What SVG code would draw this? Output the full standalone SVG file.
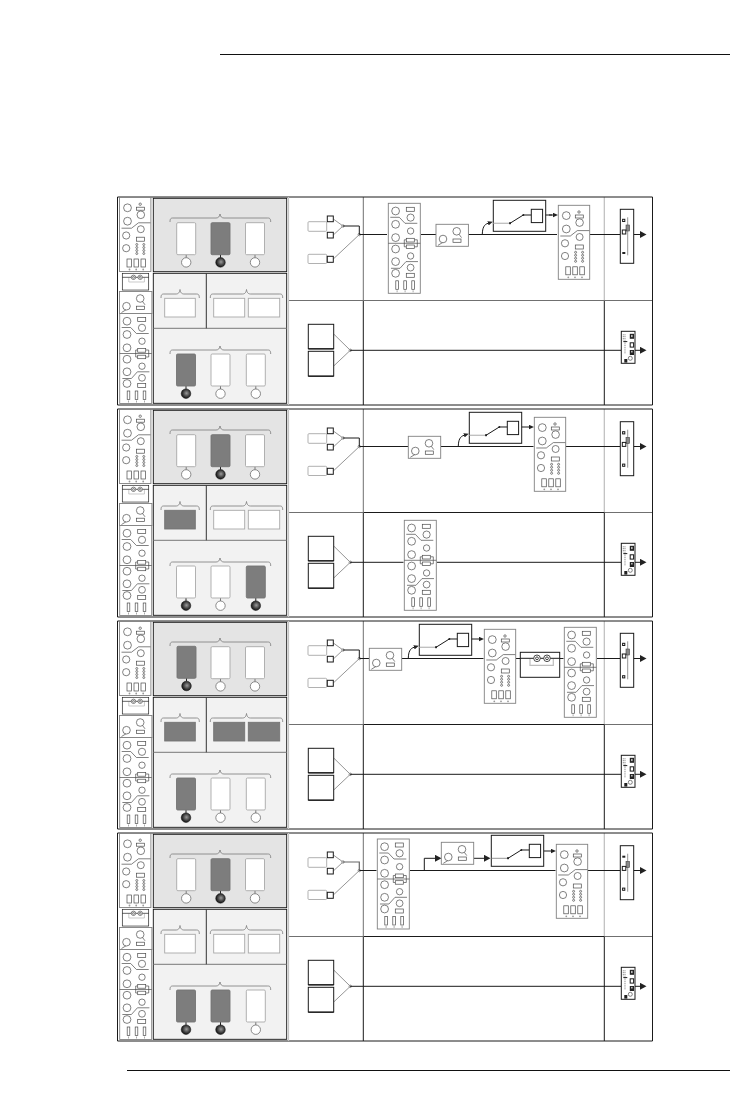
<svg xmlns="http://www.w3.org/2000/svg" xmlns:xlink="http://www.w3.org/1999/xlink" width="730" height="1099" viewBox="0 0 730 1099">
<style>
.k{fill:none;stroke:#1a1a1a;stroke-width:1}
.kf{fill:#fff;stroke:#1a1a1a;stroke-width:1}
.g{fill:none;stroke:#7a7a7a;stroke-width:.8}
.gf{fill:#fff;stroke:#808080;stroke-width:.9}
.i{fill:#fff;stroke:#4a4a4a;stroke-width:.7}
.il{fill:none;stroke:#4a4a4a;stroke-width:.7}
.t{fill:none;stroke:#1a1a1a;stroke-width:1}
.lg{fill:none;stroke:#bdbdbd;stroke-width:1.2}
.mg{fill:none;stroke:#707070;stroke-width:1}
.w{fill:#fff;stroke:#a8a8a8;stroke-width:.9}
.d{fill:#7d7d7d;stroke:#747474;stroke-width:.9}
.bl{fill:#222}
.st{stroke:#777;stroke-width:1}
.stb{stroke:#222;stroke-width:1}
.o{fill:#fff;stroke:#707070;stroke-width:.8}
</style>
<defs>
<radialGradient id="ball" cx=".55" cy=".45" r=".55"><stop offset="0" stop-color="#9a9a9a"/><stop offset=".6" stop-color="#444"/><stop offset="1" stop-color="#111"/></radialGradient>
<marker id="a" markerUnits="userSpaceOnUse" markerWidth="6.5" markerHeight="7" refX="0" refY="3.5" orient="auto"><path d="M0,0L6.5,3.5L0,7z" fill="#222"/></marker>
<marker id="s" markerUnits="userSpaceOnUse" markerWidth="5" markerHeight="5" refX="0" refY="2.5" orient="auto"><path d="M0,.3L5,2.5L0,4.7z" fill="#222"/></marker>
<g id="rackA">
<rect class="gf" width="32" height="90"/>
<path class="il" d="M0,40H32M2,14H11L16.7,20H29M2.7,65H11.7L17.7,58.3H29.7"/>
<circle class="i" cx="7.3" cy="7.7" r="3.9"/><circle class="i" cx="7.3" cy="21" r="3.9"/><circle class="i" cx="7.3" cy="34.3" r="3.9"/><circle class="i" cx="7.3" cy="45.7" r="3.9"/><circle class="i" cx="7.3" cy="58.3" r="3.9"/><circle class="i" cx="7.3" cy="70" r="3.9"/>
<circle class="i" cx="22.3" cy="14.3" r="3.6"/><circle class="i" cx="22.3" cy="27.7" r="3.2"/><circle class="i" cx="22.3" cy="52.7" r="3.2"/><circle class="i" cx="22.3" cy="64.3" r="3.4"/>
<path class="il" d="M18,36.5H16V43.5H18M26,36.5H29V43.5H26"/>
<rect class="i" x="18" y="4" width="8" height="4"/><rect class="i" x="18" y="35" width="8" height="3.7"/><rect class="i" x="18" y="41.7" width="8" height="3.5"/><rect class="i" x="18" y="70" width="8" height="4"/>
<rect class="i" x="7.5" y="77.5" width="2.6" height="8.5"/><rect class="i" x="15.5" y="77.5" width="2.6" height="8.5"/><rect class="i" x="23.5" y="77.5" width="2.6" height="8.5"/>
<path stroke="#aaa" stroke-width="1" d="M8.8,87V89M16.8,87V89M24.8,87V89"/>
</g>
<g id="rackB">
<rect class="gf" width="31.4" height="74"/>
<path class="il" d="M2,30.7H12L19,25.3H31"/>
<circle class="i" cx="8" cy="10.3" r="3.9"/><circle class="i" cx="8" cy="23.7" r="3.9"/><circle class="i" cx="6.7" cy="38" r="3.6"/><circle class="i" cx="6.7" cy="50.7" r="3.6"/>
<circle class="i" cx="20.7" cy="6.7" r="1.2"/><rect class="i" x="17" y="9.7" width="8" height="3"/><circle class="i" cx="21.3" cy="17.3" r="3.8"/><circle class="i" cx="21.3" cy="31.7" r="3.5"/><rect class="i" x="17" y="39.7" width="8" height="4"/>
<g id="dots"><circle class="i" cx="17.3" cy="47" r="1"/><circle class="i" cx="17.3" cy="50" r="1"/><circle class="i" cx="17.3" cy="53" r="1"/><circle class="i" cx="17.3" cy="56" r="1"/></g>
<use href="#dots" x="7"/>
<rect class="i" x="7.5" y="61.5" width="4.5" height="8"/><rect class="i" x="14.5" y="61.5" width="4.5" height="8"/><rect class="i" x="21.5" y="61.5" width="4.5" height="8"/>
<circle fill="#999" cx="10" cy="72" r=".9"/><circle fill="#999" cx="16.7" cy="72" r=".9"/><circle fill="#999" cx="23.7" cy="72" r=".9"/>
</g>
<g id="mic">
<rect class="gf" width="32.4" height="22"/>
<path class="il" d="M2,21L7,18M23,10L25.5,13.3"/>
<circle class="i" cx="7" cy="14.7" r="3.8"/><circle class="i" cx="20.7" cy="7" r="3.8"/><rect class="i" x="17" y="14.7" width="8" height="3.3"/>
</g>
<g id="coil">
<rect class="kf" width="39.4" height="25"/>
<path class="lg" d="M9.7,6.5V13H33V6.5"/>
<path class="k" d="M0,6H39.4"/>
<circle fill="#fff" stroke="#333" stroke-width=".9" cx="16.7" cy="6" r="3.3"/><circle fill="#fff" stroke="#333" stroke-width=".9" cx="16.7" cy="6" r="1.4"/><circle fill="#fff" stroke="#333" stroke-width=".9" cx="26.7" cy="6" r="3.3"/><circle fill="#fff" stroke="#333" stroke-width=".9" cx="26.7" cy="6" r="1.4"/>
</g>
<g id="sw">
<rect class="kf" width="52.4" height="31"/>
<path class="k" d="M16.7,23L30,14.7H38"/>
<circle class="bl" cx="16.7" cy="23" r="1"/><circle class="bl" cx="30" cy="14.7" r="1"/>
<rect class="kf" x="38" y="9" width="11.3" height="13.3"/>
</g>
<g id="fbase">
<rect class="kf" width="13.4" height="54"/>
<path class="g" d="M7.4,8V46"/>
<rect x="5.7" y="15.7" width="3.5" height="6" fill="#888" stroke="#444" stroke-width=".6"/>
<rect class="kf" x="2" y="20.7" width="3.5" height="4"/>
</g>
<g id="fA"><use href="#fbase"/><rect class="kf" x="2.3" y="10" width="2.2" height="2.2" stroke-width=".8"/><rect class="bl" x="2" y="42.7" width="3" height="2"/></g>
<g id="fB"><use href="#fbase"/><rect class="kf" x="2.3" y="10" width="2.2" height="2.2" stroke-width=".8"/><rect class="kf" x="2.3" y="42.4" width="2.2" height="2.2" stroke-width=".8"/></g>
<g id="fC"><use href="#fbase"/><rect class="bl" x="2" y="10" width="3" height="2"/><rect class="kf" x="2.3" y="42.4" width="2.2" height="2.2" stroke-width=".8"/></g>
<g id="mod">
<rect class="kf" width="13.7" height="32"/>
<path class="il" stroke-dasharray="1 .8" d="M3.7,3V22M2,3V9"/>
<path d="M2,10.3H6" stroke="#222" stroke-width="1"/>
<rect class="bl" x="8.5" y="2.5" width="4.2" height="5"/><rect fill="#ddd" x="9.9" y="3.6" width="1.3" height="2.2"/>
<rect class="kf" x="8.9" y="11.5" width="3.4" height="4.3" stroke-width="1.3"/>
<rect class="bl" x="8.5" y="18.7" width="4.2" height="5"/><rect fill="#ddd" x="9.9" y="19.6" width="1.3" height="1.6"/>
<circle class="i" cx="9" cy="27" r="2"/>
<rect class="bl" x="3" y="27.7" width="3" height="3.6"/>
</g>
<g id="brace3"><path class="g" d="M170,25C170,21.5 171,21 173,21H216C218,21 219.5,20 220,17C220.5,20 222,21 224,21H267.7C269.7,21 270.7,21.5 270.7,25" stroke="#8a8a8a"/></g>
<g id="braceL"><path class="g" d="M161,101C161,97.5 162,97 164,97H176C178,97 179.5,96 180,92.5C180.5,96 182,97 184,97H196.3C198.3,97 199.3,97.5 199.3,101" stroke="#8a8a8a"/></g>
<g id="braceR"><path class="g" d="M210.3,101C210.3,97.5 211.3,97 213.3,97H242.5C244.5,97 246,96 246.5,92.5C247,96 248.5,97 250.5,97H279.7C281.7,97 282.7,97.5 282.7,101" stroke="#8a8a8a"/></g>
<g id="wo"><path class="st" d="M9.5,31.7V35"/><rect class="w" width="19" height="32" rx="1.2"/><circle class="o" cx="9.5" cy="39.7" r="4.7"/></g>
<g id="db"><path class="stb" d="M9.5,31.7V35"/><rect class="d" width="19" height="32" rx="1.2"/><circle fill="url(#ball)" stroke="#111" stroke-width=".5" cx="9.5" cy="39.7" r="4.8"/></g>
<g id="wb"><path class="stb" d="M9.5,31.7V35"/><rect class="w" width="19" height="32" rx="1.2"/><circle fill="url(#ball)" stroke="#111" stroke-width=".5" cx="9.5" cy="39.7" r="4.8"/></g>
<g id="strip">
<use href="#rackB" x="119.5" y="0.5"/>
<use href="#mic" x="119.5" y="94.5"/>
<g transform="translate(122.3,76.3) scale(.67)"><use href="#coil"/></g>
<use href="#rackA" x="119.7" y="116.5"/>
<rect x="153.3" y="1.3" width="133.4" height="73.4" fill="#e4e4e4" stroke="#111" stroke-width=".9"/>
<rect x="153.3" y="76.3" width="133.4" height="130" fill="#f2f2f2" stroke="#111" stroke-width=".9"/>
<path d="M153.3,131.3H286.7" stroke="#777" stroke-width="1"/>
<path d="M206.3,76.3V131.3" stroke="#333" stroke-width="1"/>
<use href="#brace3"/><use href="#braceL"/><use href="#braceR"/>
<use href="#brace3" y="132"/>
<path d="M288.5,0V208" stroke="#c4c4c4" stroke-width="1.2"/>
</g>
<g id="src">
<rect class="w" x="308" y="24.7" width="18.7" height="9.6" rx="1"/><rect class="w" x="308" y="57.3" width="18.7" height="9.2" rx="1"/>
<rect class="kf" x="327.3" y="19" width="6" height="5.7"/><rect class="kf" x="327.3" y="35.3" width="6" height="5.7"/><rect class="kf" x="327.3" y="59.3" width="6" height="6"/>
</g>
<g id="low">
<rect class="kf" x="308.3" y="127.3" width="25.4" height="24.4"/><rect class="kf" x="308.3" y="154.3" width="25.4" height="24.7"/>
<path d="M308.3,152H333.7M308.3,179.3H333.7" stroke="#111" stroke-width="1"/>
</g>
<g id="wires">
<path class="g" d="M333.3,22L343,29M333.3,38L343,29M333.3,62L359.3,37.6M333.7,137L350.3,153.3M333.7,169L350.3,153.3"/>
<circle class="o" cx="343" cy="29" r="1.2"/><circle class="o" cx="359.3" cy="37.6" r="1.2"/><circle class="o" cx="350.3" cy="153.3" r="1.2"/>
</g>
</defs>

<g id="page-rules">
<path d="M220,54.5H730" stroke="#111" stroke-width="1"/>
<path d="M127,1070.5H730" stroke="#111" stroke-width="1"/>
</g>

<g id="frames">
<g id="frame1" transform="translate(0,197)">
<path class="mg" d="M289,103.5H652"/><path class="mg" d="M363.3,0V104"/><path class="lg" d="M604.3,0V103"/><path class="t" d="M363.3,104V208M604.3,104V208"/>
</g>
<g id="frame2" transform="translate(0,409)">
<path class="mg" d="M289,103.5H363M604,103.5H652"/><path class="mg" d="M363.3,0V103"/><path class="lg" d="M604.3,0V103"/><path class="t" d="M363.3,103.5H604.3M363.3,104V208M604.3,104V208"/>
</g>
<g id="frame3" transform="translate(0,621)">
<path class="mg" d="M289,103.5H363M604,103.5H652"/><path class="mg" d="M363.3,0V103"/><path class="lg" d="M604.3,0V103"/><path class="t" d="M363.3,103.5H604.3M363.3,104V208M604.3,104V208"/>
</g>
<g id="frame4" transform="translate(0,833)">
<path class="mg" d="M289,103.5H363M604,103.5H652"/><path class="mg" d="M363.3,0V103"/><path class="lg" d="M604.3,0V103"/><path class="t" d="M363.3,103.5H604.3M363.3,104V208M604.3,104V208"/>
</g>
<path class="t" d="M117.5,197H652.5V405H117.5ZM117.5,409H652.5V617H117.5ZM117.5,621H652.5V829H117.5ZM117.5,833H652.5V1041H117.5Z"/>
</g>

<g id="connectors">
<g transform="translate(0,197)">
<use href="#wires"/>
<path class="t" d="M343,29H359.3V37.5M359.3,37.5H387M421,37.5H436M468.3,37.5H557M590,37.5H620M350,153.3H621M542.7,18H552"/>
<path class="t" marker-end="url(#a)" d="M633.7,37.5H640"/><path class="t" marker-end="url(#a)" d="M635,153.3H640"/>
<path class="t" marker-end="url(#s)" d="M549,18H553"/>
<path class="t" marker-end="url(#s)" d="M482.3,37C482.5,31 484,27.5 488,26.3"/>
</g>
<g transform="translate(0,409)">
<use href="#wires"/>
<path class="t" d="M343,29H359.3V37.5M359.3,37.5H408M441,37.5H533.5M566,37.5H620M350,153.3H403.5M437,153.3H621"/>
<path class="t" marker-end="url(#a)" d="M633.7,37.5H640"/><path class="t" marker-end="url(#a)" d="M635,153.3H640"/>
<path class="t" marker-end="url(#s)" d="M521,18H529"/>
<path class="t" marker-end="url(#s)" d="M458.3,37C458.5,31 460,27.5 464,26.3"/>
</g>
<g transform="translate(0,621)">
<use href="#wires"/>
<path class="t" d="M343,29H359.3V37.5M359.3,37.5H369M402,37.5H483.5M516,37.5H563.5M597,37.5H620M350,153.3H621"/>
<path class="t" marker-end="url(#a)" d="M633.7,37.5H640"/><path class="t" marker-end="url(#a)" d="M635,153.3H640"/>
<path class="t" marker-end="url(#s)" d="M471,18H479"/>
<path class="t" marker-end="url(#s)" d="M408.3,37C408.5,31 410,27.5 414,26.3"/>
</g>
<g transform="translate(0,833)">
<use href="#wires"/>
<path d="M343,29H359.3V37.5" fill="none" stroke="#666" stroke-width="1.2"/>
<path class="t" d="M359.3,37.5H376.5M410,37.5H555.5M588,37.5H620M350,153.3H621"/>
<path class="t" marker-end="url(#a)" d="M633.7,37.5H640"/><path class="t" marker-end="url(#a)" d="M635,153.3H640"/>
<path class="t" marker-end="url(#a)" d="M424.3,37.5V25.3H435"/>
<path class="t" marker-end="url(#a)" d="M474,25.3H484"/>
<path class="t" marker-end="url(#s)" d="M544,18H551"/>
</g>
</g>

<g id="panel1" transform="translate(0,197)">
<g id="p1-strip"><use href="#strip"/></g>
<g id="p1-top"><use href="#wo" x="176.7" y="25.7"/><use href="#db" x="211" y="25.7"/><use href="#wo" x="245.5" y="25.7"/></g>
<g id="p1-mid"><rect class="w" x="164.7" y="101.3" width="30.6" height="18.7"/><rect class="w" x="213.7" y="101.3" width="31" height="18.7"/><rect class="w" x="248.3" y="101.3" width="31.4" height="18.7"/></g>
<g id="p1-low"><use href="#db" x="176.5" y="157"/><use href="#wo" x="211" y="157"/><use href="#wo" x="246.3" y="157"/></g>
<g id="p1-src"><use href="#src"/></g><g id="p1-lowsrc"><use href="#low"/></g>
<g id="p1-rackA"><use href="#rackA" x="388.3" y="6.3"/></g>
<g id="p1-mic"><use href="#mic" x="436" y="27.3"/></g>
<g id="p1-sw"><use href="#sw" x="493.3" y="3.3"/><path d="M493.5,26.3H510" stroke="#bdbdbd" stroke-width="1.3"/><circle class="bl" cx="510" cy="26.3" r="1"/></g>
<g id="p1-rackB"><use href="#rackB" x="558.3" y="8.3"/></g>
<g id="p1-fader"><use href="#fA" x="620.3" y="12.3"/></g>
<g id="p1-mod"><use href="#mod" x="621.3" y="134.3"/></g>
</g>

<g id="panel2" transform="translate(0,409)">
<g id="p2-strip"><use href="#strip"/></g>
<g id="p2-top"><use href="#wo" x="176.7" y="25.7"/><use href="#db" x="211" y="25.7"/><use href="#wo" x="245.5" y="25.7"/></g>
<g id="p2-mid"><rect class="d" x="164.7" y="101.3" width="30.6" height="18.7"/><rect class="w" x="213.7" y="101.3" width="31" height="18.7"/><rect class="w" x="248.3" y="101.3" width="31.4" height="18.7"/></g>
<g id="p2-low"><use href="#wb" x="176.5" y="157"/><use href="#wo" x="211" y="157"/><use href="#db" x="246.3" y="157"/></g>
<g id="p2-src"><use href="#src"/></g><g id="p2-lowsrc"><use href="#low"/></g>
<g id="p2-mic"><use href="#mic" x="408.3" y="27.3"/></g>
<g id="p2-sw"><use href="#sw" x="469.3" y="3.3"/><path d="M469.5,26.3H486" stroke="#bdbdbd" stroke-width="1.3"/><circle class="bl" cx="486" cy="26.3" r="1"/></g>
<g id="p2-rackB"><use href="#rackB" x="534.3" y="8.3"/></g>
<g id="p2-fader"><use href="#fB" x="620.3" y="12.7"/></g>
<g id="p2-rackA"><use href="#rackA" x="404.3" y="111.3"/></g>
<g id="p2-mod"><use href="#mod" x="621.3" y="134.3"/></g>
</g>

<g id="panel3" transform="translate(0,621)">
<g id="p3-strip"><use href="#strip"/></g>
<g id="p3-top"><use href="#db" x="177" y="25.3"/><use href="#wo" x="211" y="25.7"/><use href="#wo" x="245.5" y="25.7"/></g>
<g id="p3-mid"><rect class="d" x="164.7" y="101.3" width="30.6" height="18.7"/><rect class="d" x="213.7" y="101.3" width="31" height="18.7"/><rect class="d" x="248.3" y="101.3" width="31.4" height="18.7"/></g>
<g id="p3-low"><use href="#db" x="176.5" y="157"/><use href="#wo" x="211" y="157"/><use href="#wo" x="246.3" y="157"/></g>
<g id="p3-src"><use href="#src"/></g><g id="p3-lowsrc"><use href="#low"/></g>
<g id="p3-mic"><use href="#mic" x="369.3" y="27.3"/></g>
<g id="p3-sw"><use href="#sw" x="419.3" y="3.3"/><path d="M419.5,26.3H436" stroke="#bdbdbd" stroke-width="1.3"/><circle class="bl" cx="436" cy="26.3" r="1"/></g>
<g id="p3-rackB"><use href="#rackB" x="484.3" y="8.3"/></g>
<g id="p3-coil"><use href="#coil" x="520.3" y="31.3"/></g>
<g id="p3-rackA"><use href="#rackA" x="564.3" y="6.3"/></g>
<g id="p3-fader"><use href="#fB" x="620.3" y="12.3"/></g>
<g id="p3-mod"><use href="#mod" x="621.3" y="134.3"/></g>
</g>

<g id="panel4" transform="translate(0,833)">
<g id="p4-strip"><use href="#strip"/></g>
<g id="p4-top"><use href="#wo" x="176.7" y="25.7"/><use href="#db" x="211" y="25.7"/><use href="#wo" x="245.5" y="25.7"/></g>
<g id="p4-mid"><rect class="w" x="164.7" y="101.3" width="30.6" height="18.7"/><rect class="w" x="213.7" y="101.3" width="31" height="18.7"/><rect class="w" x="248.3" y="101.3" width="31.4" height="18.7"/></g>
<g id="p4-low"><use href="#db" x="176.5" y="157"/><use href="#db" x="211" y="157"/><use href="#wo" x="246.3" y="157"/></g>
<g id="p4-src"><use href="#src"/></g><g id="p4-lowsrc"><use href="#low"/></g>
<g id="p4-rackA"><use href="#rackA" x="377.3" y="6"/></g>
<g id="p4-mic"><use href="#mic" x="441.3" y="9.3"/></g>
<g id="p4-sw"><use href="#sw" x="491.3" y="2.3"/><path d="M491.5,25.3H508" stroke="#888" stroke-width=".9"/><circle class="bl" cx="508" cy="25.3" r="1"/></g>
<g id="p4-rackB"><use href="#rackB" x="556.3" y="11.3"/></g>
<g id="p4-fader"><use href="#fC" x="620.3" y="12.7"/></g>
<g id="p4-mod"><use href="#mod" x="621.3" y="134.3"/></g>
</g>
</svg>
